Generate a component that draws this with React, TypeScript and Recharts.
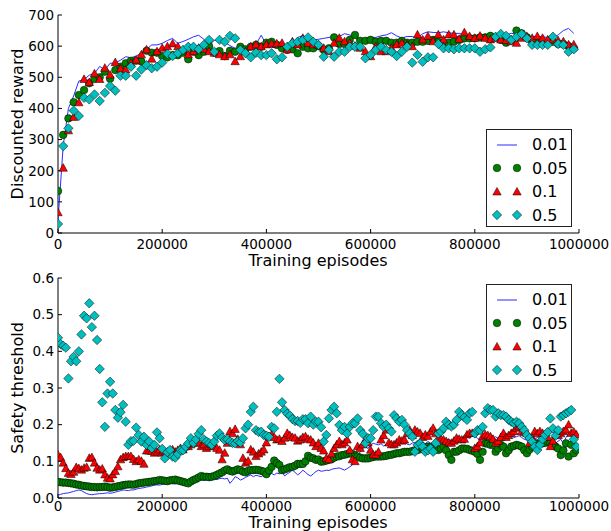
import React from "react";
import { ScatterChart, Scatter, XAxis, YAxis } from "recharts";

// reward curves, one value every 10000 episodes
const rewardA = [
  40, 280, 400, 440, 488, 492, 507, 512, 535, 523,
  545, 546, 555, 566, 563, 568, 578, 590, 604, 604,
  609, 618, 625, 609, 615, 622, 630, 635, 622, 604,
  618, 622, 612, 602, 593, 598, 598, 602, 606, 635,
  604, 595, 598, 595, 584, 606, 628, 634, 614, 620,
  622, 625, 628, 631, 631, 640, 636, 630, 606, 625,
  628, 628, 633, 636, 643, 633, 626, 631, 631, 625,
  640, 646, 644, 643, 646, 643, 641, 641, 636, 632,
  632, 630, 628, 625, 628, 633, 636, 641, 638, 630,
  626, 631, 631, 630, 628, 626, 636, 650, 657, 641,
];
const rewardB = [
  135, 315, 368, 420, 443, 459, 481, 495, 500, 518,
  495, 523, 534, 545, 553, 553, 551, 585, 579, 579,
  568, 564, 571, 571, 579, 558, 582, 571, 582, 600,
  579, 584, 568, 585, 582, 598, 590, 598, 604, 598,
  611, 614, 604, 593, 588, 590, 577, 598, 593, 593,
  600, 588, 593, 628, 607, 607, 620, 636, 617, 617,
  620, 614, 617, 617, 611, 611, 617, 611, 611, 614,
  614, 617, 620, 614, 611, 611, 614, 620, 625, 625,
  625, 628, 628, 633, 628, 620, 611, 620, 650, 641,
  628, 614, 614, 614, 611, 614, 607, 607, 600, 593,
];
const rewardC = [
  65, 208, 328, 371, 418, 493, 483, 511, 493, 529,
  507, 547, 527, 523, 545, 555, 572, 588, 558, 582,
  593, 598, 607, 598, 585, 572, 582, 593, 590, 582,
  577, 572, 566, 572, 550, 566, 582, 598, 604, 598,
  604, 607, 607, 609, 588, 614, 604, 625, 609, 604,
  604, 593, 582, 609, 625, 614, 609, 600, 593, 582,
  566, 598, 582, 582, 593, 604, 609, 604, 598, 636,
  620, 631, 614, 636, 620, 636, 636, 622, 643, 631,
  625, 632, 625, 620, 625, 620, 618, 614, 609, 625,
  631, 625, 631, 625, 620, 620, 617, 614, 604, 604,
];
const rewardD = [
  29, 279, 336, 393, 376, 434, 429, 445, 424, 450,
  472, 457, 505, 505, 534, 505, 525, 539, 529, 534,
  547, 575, 568, 577, 588, 598, 598, 590, 604, 620,
  582, 620, 614, 633, 625, 588, 577, 564, 579, 571,
  571, 577, 558, 564, 598, 609, 614, 620, 628, 614,
  604, 566, 588, 566, 582, 582, 598, 598, 598, 561,
  572, 588, 598, 588, 582, 568, 582, 598, 547, 572,
  550, 564, 564, 607, 593, 593, 590, 593, 593, 593,
  593, 582, 590, 596, 630, 639, 633, 620, 630, 639,
  625, 604, 604, 604, 604, 630, 607, 604, 582, 590,
];

// safety threshold, one value every 5000 episodes
const safetyA = [
  0.008, 0.01, 0.012, 0.013, 0.014, 0.016, 0.018, 0.02, 0.022, 0.02, 0.016, 0.012, 0.01, 0.009, 0.01, 0.011, 0.012, 0.012, 0.013, 0.014,
  0.013, 0.014, 0.016, 0.018, 0.02, 0.022, 0.021, 0.02, 0.022, 0.022, 0.024, 0.026, 0.027, 0.028, 0.03, 0.031, 0.033, 0.035, 0.036, 0.035,
  0.037, 0.038, 0.038, 0.04, 0.039, 0.038, 0.04, 0.037, 0.036, 0.037, 0.038, 0.042, 0.044, 0.046, 0.047, 0.049, 0.048, 0.05, 0.047, 0.049,
  0.052, 0.05, 0.053, 0.054, 0.052, 0.054, 0.04, 0.048, 0.058, 0.055, 0.049, 0.052, 0.056, 0.06, 0.063, 0.058, 0.062, 0.06, 0.058, 0.063,
  0.065, 0.06, 0.067, 0.063, 0.068, 0.066, 0.072, 0.06, 0.066, 0.07, 0.076, 0.07, 0.063, 0.068, 0.076, 0.07, 0.064, 0.06, 0.066, 0.072,
  0.076, 0.073, 0.074, 0.076, 0.075, 0.078, 0.08, 0.081, 0.082, 0.079, 0.076, 0.08, 0.085, 0.09, 0.1, 0.113, 0.126, 0.135, 0.14, 0.135,
  0.145, 0.149, 0.147, 0.145, 0.148, 0.142, 0.146, 0.15, 0.149, 0.145, 0.151, 0.154, 0.148, 0.154, 0.147, 0.145, 0.15, 0.152, 0.149, 0.145,
  0.14, 0.148, 0.154, 0.15, 0.145, 0.149, 0.151, 0.149, 0.152, 0.158, 0.16, 0.155, 0.152, 0.156, 0.16, 0.158, 0.163, 0.167, 0.163, 0.176,
  0.17, 0.163, 0.158, 0.16, 0.165, 0.162, 0.158, 0.163, 0.167, 0.162, 0.16, 0.168, 0.172, 0.176, 0.17, 0.165, 0.167, 0.17, 0.165, 0.16,
  0.158, 0.162, 0.155, 0.16, 0.165, 0.163, 0.16, 0.155, 0.16, 0.158, 0.152, 0.149, 0.155, 0.16, 0.149, 0.165, 0.176, 0.168, 0.15, 0.158,
];
const safetyB = [
  0.044, 0.043, 0.042, 0.042, 0.041, 0.04, 0.039, 0.037, 0.036, 0.034, 0.033, 0.032, 0.031, 0.03, 0.03, 0.029, 0.03, 0.03, 0.031, 0.03,
  0.028, 0.029, 0.03, 0.032, 0.033, 0.035, 0.036, 0.037, 0.037, 0.036, 0.038, 0.04, 0.041, 0.042, 0.043, 0.044, 0.045, 0.046, 0.047, 0.049,
  0.048, 0.047, 0.046, 0.048, 0.049, 0.05, 0.048, 0.046, 0.044, 0.042, 0.04, 0.045, 0.049, 0.052, 0.056, 0.06, 0.058, 0.058, 0.057, 0.058,
  0.06, 0.063, 0.067, 0.07, 0.075, 0.078, 0.074, 0.072, 0.075, 0.078, 0.076, 0.072, 0.07, 0.074, 0.076, 0.076, 0.077, 0.076, 0.074, 0.072,
  0.065, 0.075, 0.085, 0.102, 0.095, 0.09, 0.076, 0.078, 0.081, 0.084, 0.085, 0.088, 0.093, 0.093, 0.093, 0.1, 0.115, 0.11, 0.108, 0.104,
  0.105, 0.099, 0.1, 0.102, 0.104, 0.106, 0.11, 0.113, 0.114, 0.117, 0.118, 0.12, 0.122, 0.12, 0.116, 0.113, 0.11, 0.108, 0.108, 0.108,
  0.11, 0.112, 0.113, 0.113, 0.113, 0.114, 0.115, 0.117, 0.118, 0.12, 0.122, 0.122, 0.124, 0.126, 0.126, 0.126, 0.128, 0.13, 0.131, 0.133,
  0.135, 0.137, 0.14, 0.138, 0.135, 0.133, 0.131, 0.135, 0.14, 0.13, 0.117, 0.104, 0.126, 0.126, 0.13, 0.135, 0.135, 0.134, 0.131, 0.129,
  0.126, 0.12, 0.104, 0.126, 0.149, 0.148, 0.145, 0.145, 0.126, 0.135, 0.145, 0.14, 0.122, 0.13, 0.14, 0.142, 0.145, 0.143, 0.14, 0.13,
  0.122, 0.132, 0.14, 0.145, 0.149, 0.149, 0.149, 0.15, 0.154, 0.15, 0.145, 0.14, 0.135, 0.117, 0.13, 0.149, 0.113, 0.145, 0.122, 0.131,
];
const safetyC = [
  0.117, 0.11, 0.095, 0.08, 0.067, 0.064, 0.07, 0.083, 0.08, 0.076, 0.081, 0.083, 0.108, 0.11, 0.095, 0.081, 0.076, 0.079, 0.063, 0.054,
  0.052, 0.063, 0.072, 0.085, 0.104, 0.11, 0.113, 0.113, 0.113, 0.105, 0.099, 0.104, 0.1, 0.092, 0.128, 0.128, 0.127, 0.122, 0.125, 0.131,
  0.122, 0.125, 0.12, 0.128, 0.131, 0.125, 0.13, 0.135, 0.131, 0.14, 0.14, 0.145, 0.149, 0.15, 0.15, 0.14, 0.145, 0.135, 0.14, 0.145,
  0.14, 0.135, 0.13, 0.104, 0.122, 0.149, 0.181, 0.175, 0.187, 0.16, 0.145, 0.108, 0.095, 0.1, 0.131, 0.125, 0.113, 0.12, 0.125, 0.131,
  0.15, 0.167, 0.172, 0.165, 0.158, 0.16, 0.154, 0.163, 0.176, 0.17, 0.165, 0.163, 0.155, 0.158, 0.165, 0.167, 0.16, 0.158, 0.15, 0.14,
  0.149, 0.135, 0.128, 0.108, 0.104, 0.12, 0.135, 0.145, 0.154, 0.145, 0.15, 0.158, 0.13, 0.104, 0.099, 0.14, 0.135, 0.145, 0.158, 0.15,
  0.13, 0.117, 0.117, 0.125, 0.158, 0.17, 0.185, 0.15, 0.145, 0.145, 0.15, 0.158, 0.155, 0.158, 0.175, 0.185, 0.17, 0.185, 0.18, 0.176,
  0.165, 0.172, 0.168, 0.18, 0.19, 0.175, 0.163, 0.16, 0.158, 0.154, 0.15, 0.149, 0.155, 0.163, 0.16, 0.158, 0.16, 0.172, 0.176, 0.176,
  0.135, 0.14, 0.15, 0.167, 0.172, 0.17, 0.167, 0.16, 0.149, 0.154, 0.165, 0.176, 0.165, 0.17, 0.176, 0.181, 0.19, 0.194, 0.181, 0.178,
  0.176, 0.149, 0.165, 0.181, 0.175, 0.181, 0.176, 0.172, 0.165, 0.14, 0.155, 0.172, 0.17, 0.175, 0.181, 0.185, 0.199, 0.176, 0.18, 0.172,
];
const safetyD = [
  0.437, 0.42, 0.415, 0.41, 0.326, 0.373, 0.385, 0.373, 0.4, 0.446, 0.497, 0.49, 0.531, 0.466, 0.497, 0.431, 0.352, 0.261, 0.194, 0.285,
  0.317, 0.285, 0.24, 0.219, 0.234, 0.254, 0.208, 0.145, 0.155, 0.156, 0.192, 0.172, 0.154, 0.167, 0.145, 0.154, 0.136, 0.145, 0.179, 0.163,
  0.134, 0.108, 0.125, 0.131, 0.113, 0.11, 0.12, 0.131, 0.13, 0.14, 0.149, 0.163, 0.15, 0.16, 0.175, 0.185, 0.16, 0.154, 0.15, 0.145,
  0.154, 0.17, 0.176, 0.165, 0.158, 0.16, 0.154, 0.15, 0.149, 0.155, 0.151, 0.163, 0.19, 0.2, 0.235, 0.249, 0.185, 0.18, 0.181, 0.172,
  0.17, 0.167, 0.194, 0.19, 0.235, 0.325, 0.261, 0.24, 0.23, 0.225, 0.215, 0.21, 0.21, 0.205, 0.215, 0.215, 0.204, 0.222, 0.2, 0.208,
  0.208, 0.193, 0.154, 0.172, 0.217, 0.24, 0.249, 0.231, 0.199, 0.185, 0.194, 0.176, 0.194, 0.204, 0.204, 0.217, 0.185, 0.175, 0.149, 0.163,
  0.163, 0.185, 0.222, 0.222, 0.204, 0.194, 0.2, 0.19, 0.181, 0.226, 0.217, 0.208, 0.213, 0.2, 0.185, 0.176, 0.167, 0.126, 0.145, 0.149,
  0.14, 0.126, 0.13, 0.135, 0.126, 0.15, 0.176, 0.181, 0.19, 0.208, 0.2, 0.195, 0.2, 0.213, 0.235, 0.226, 0.22, 0.213, 0.231, 0.235,
  0.176, 0.185, 0.185, 0.194, 0.231, 0.245, 0.24, 0.24, 0.222, 0.231, 0.226, 0.226, 0.222, 0.213, 0.208, 0.204, 0.208, 0.204, 0.194, 0.185,
  0.172, 0.163, 0.154, 0.14, 0.131, 0.145, 0.16, 0.172, 0.18, 0.217, 0.19, 0.17, 0.185, 0.222, 0.226, 0.231, 0.235, 0.24, 0.16, 0.14,
];

const labels = ["0.01", "0.05", "0.1", "0.5"];
const xTicks = [0, 200000, 400000, 600000, 800000, 1000000];
const rewardTicks = [0, 100, 200, 300, 400, 500, 600, 700];
const safetyTicks = [0, 0.1, 0.2, 0.3, 0.4, 0.5, 0.6];

const FONT = "DejaVu Sans, sans-serif";
const BLUE = "#2a2aff";
const GREEN = "#008000";
const RED = "#ff0000";
const CYAN = "#00bfbf";

const toPoints = (vals: number[], step: number) =>
  vals.map((y, i) => ({ x: i * step, y }));

const Dot = ({ cx, cy }: any) => (
  <circle cx={cx} cy={cy} r={3.8} fill={GREEN} stroke="#000" strokeWidth={0.5} />
);
const Tri = ({ cx, cy }: any) => (
  <polygon
    points={`${cx},${cy - 4.6} ${cx - 4.2},${cy + 3} ${cx + 4.2},${cy + 3}`}
    fill={RED}
    stroke="#000"
    strokeWidth={0.5}
  />
);
const Dia = ({ cx, cy }: any) => (
  <polygon
    points={`${cx},${cy - 4.7} ${cx + 4.7},${cy} ${cx},${cy + 4.7} ${cx - 4.7},${cy}`}
    fill={CYAN}
    stroke="#000"
    strokeWidth={0.5}
  />
);
const NoMark = () => <g />;

function LegendBox({ left, top }: { left: number; top: number }) {
  const marks = [
    (x: number) => <line x1={x - 10} x2={x + 10} y1={10} y2={10} stroke={BLUE} strokeWidth={1} />,
    (x: number) => <Dot cx={x} cy={10} />,
    (x: number) => <Tri cx={x} cy={10} />,
    (x: number) => <Dia cx={x} cy={10} />,
  ];
  return (
    <div
      style={{
        position: "absolute",
        left,
        top,
        width: 84,
        height: 93,
        border: "1px solid #222",
        background: "#fff",
        fontFamily: FONT,
        fontSize: 16,
        paddingTop: 3,
        boxSizing: "content-box",
      }}
    >
      {labels.map((lab, i) => (
        <div key={lab} style={{ height: 23.5, display: "flex", alignItems: "center" }}>
          <svg width={44} height={20} style={{ flex: "none" }}>
            {i === 0 ? marks[0](20) : (
              <>
                {marks[i](10)}
                {marks[i](30)}
              </>
            )}
          </svg>
          <span style={{ marginLeft: 1 }}>{lab}</span>
        </div>
      ))}
    </div>
  );
}

const tickStyle = { fill: "#000", fontSize: 13.5, fontFamily: FONT };

function Panel({ height, top, bottom, yDomain, yTicks, yFormat, series, step, xMargin }: any) {
  const [a, b, c, d] = series;
  return (
    <ScatterChart width={611} height={height} margin={{ top, right: 32, bottom, left: 0 }}>
      <XAxis
        type="number"
        dataKey="x"
        domain={[0, 1000000]}
        ticks={xTicks}
        interval={0}
        allowDataOverflow
        height={30}
        tickSize={-4}
        tickMargin={xMargin}
        tick={tickStyle}
        axisLine={{ stroke: "#000" }}
        tickLine={{ stroke: "#000" }}
      />
      <YAxis
        type="number"
        dataKey="y"
        domain={yDomain}
        ticks={yTicks}
        interval={0}
        allowDataOverflow
        width={58}
        tickSize={-4}
        tickMargin={8}
        tick={tickStyle}
        tickFormatter={yFormat}
        axisLine={{ stroke: "#000" }}
        tickLine={{ stroke: "#000" }}
      />
      <Scatter
        name={labels[0]}
        data={toPoints(a, step)}
        line={{ stroke: BLUE, strokeWidth: 1 }}
        shape={NoMark}
        isAnimationActive={false}
      />
      <Scatter name={labels[1]} data={toPoints(b, step)} shape={Dot} isAnimationActive={false} />
      <Scatter name={labels[2]} data={toPoints(c, step)} shape={Tri} isAnimationActive={false} />
      <Scatter name={labels[3]} data={toPoints(d, step)} shape={Dia} isAnimationActive={false} />
    </ScatterChart>
  );
}

const axisTitle: React.CSSProperties = {
  position: "absolute",
  fontFamily: FONT,
  fontSize: 16,
  color: "#000",
  whiteSpace: "nowrap",
};

export default function App() {
  return (
    <div style={{ position: "absolute", left: 0, top: 0, width: 611, height: 531, overflow: "hidden", background: "#fff" }}>
      <div style={{ position: "absolute", left: 0, top: 0 }}>
        <Panel
          height={265}
          top={15}
          bottom={2}
          yDomain={[0, 700]}
          yTicks={rewardTicks}
          yFormat={(v: number) => String(v)}
          series={[rewardA, rewardB, rewardC, rewardD]}
          step={10000}
          xMargin={10}
        />
      </div>
      <div style={{ position: "absolute", left: 0, top: 265 }}>
        <Panel
          height={266}
          top={13}
          bottom={3}
          yDomain={[0, 0.6]}
          yTicks={safetyTicks}
          yFormat={(v: number) => v.toFixed(1)}
          series={[safetyA, safetyB, safetyC, safetyD]}
          step={5000}
          xMargin={7}
        />
      </div>
      <LegendBox left={486} top={129} />
      <LegendBox left={486} top={284} />
      <div style={{ ...axisTitle, left: 318, top: 251, transform: "translateX(-50%)" }}>Training episodes</div>
      <div style={{ ...axisTitle, left: 318, top: 513, transform: "translateX(-50%)" }}>Training episodes</div>
      <div style={{ ...axisTitle, left: 17, top: 124, transform: "translate(-50%, -50%) rotate(-90deg)" }}>Discounted reward</div>
      <div style={{ ...axisTitle, left: 17, top: 388, transform: "translate(-50%, -50%) rotate(-90deg)" }}>Safety threshold</div>
    </div>
  );
}
